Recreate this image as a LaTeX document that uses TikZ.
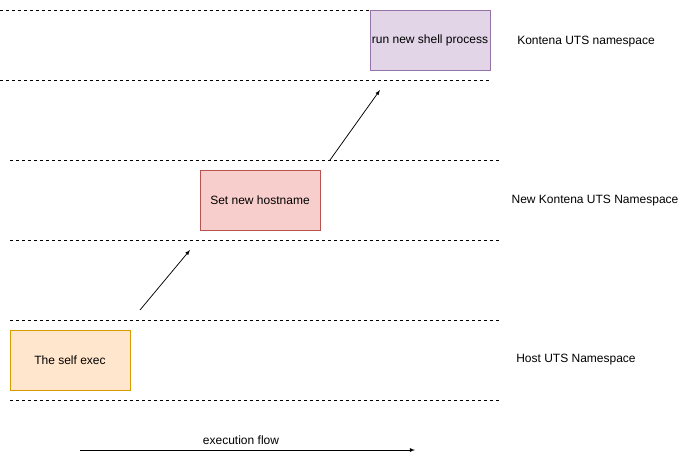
\documentclass[tikz,border=0pt]{standalone}
\usepackage{fontspec}
\setmainfont{Liberation Sans}
\definecolor{purplefill}{HTML}{E1D5E7}
\definecolor{purpleline}{HTML}{9673A6}
\definecolor{redfill}{HTML}{F8CECC}
\definecolor{redline}{HTML}{B85450}
\definecolor{orangefill}{HTML}{FFE6CC}
\definecolor{orangeline}{HTML}{D79B00}
\tikzset{
  stepbox/.style={draw,rectangle,minimum width=120pt,minimum height=60pt,inner sep=0pt,font=\fontsize{12}{14}\selectfont},
  nslabel/.style={font=\fontsize{12}{14}\selectfont},
  nsline/.style={dash pattern=on 3pt off 3pt,line width=0.75pt},
  flow/.style={-latex,line width=0.75pt}
}

\begin{document}
\begin{tikzpicture}[x=1pt,y=-1pt]
  \useasboundingbox (0,0) rectangle (686,459);
   \coordinate (ExecStart) at (80,450);
   \coordinate (ExecEnd) at (415,450);
   \coordinate (HopOneA) at (140,310);
   \coordinate (HopOneB) at (190,250);
   \coordinate (HopTwoA) at (330,160);
   \coordinate (HopTwoB) at (380,90);
    % namespace borders
  \draw[nsline] (0,10) -- (490,10);
  \draw[nsline] (0,80) -- (490,80);
  \foreach \y in {160,240,320,400}{% lower bands
    \draw[nsline] (10,\y) -- (500,\y);
  }
  \node[stepbox,fill=purplefill,draw=purpleline] (shell) at (430,40) {run new shell process};
  \node[stepbox,fill=redfill,draw=redline] (hostname) at (260,200) {Set new hostname};
  \node[stepbox,fill=orangefill,draw=orangeline] (selfexec) at (70,360) {The self exec};
  \node[nslabel] (kontenans) at (586,42) {Kontena UTS namespace};
  \node[nslabel] (newns) at (595,201) {New Kontena UTS Namespace};
  \node[nslabel] (hostns) at (576,360) {Host UTS Namespace};
  \draw [flow] (HopOneA) -- (HopOneB);
  \draw [flow] (HopTwoA) -- (HopTwoB);
  \draw [flow] (ExecStart) -- (ExecEnd);
  \node[nslabel] (flowlabel) at (241,440) {execution flow};
 \end{tikzpicture}
\end{document}
